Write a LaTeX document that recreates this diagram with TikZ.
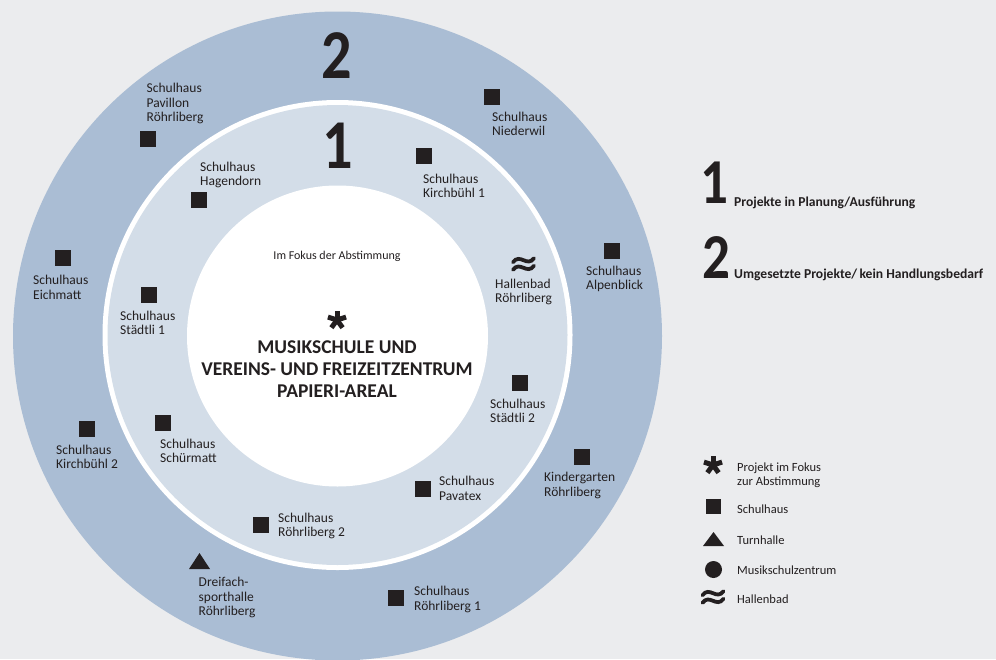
\documentclass[tikz,border=0pt]{standalone}
\usepackage{fontspec}
\setmainfont{Carlito}
\definecolor{bg}{HTML}{EBECEE}
\definecolor{outerblue}{HTML}{AABDD4}
\definecolor{innerblue}{HTML}{D3DDE8}
\definecolor{ink}{HTML}{231F20}
\newcommand{\narrow}[1]{\scalebox{0.86}[1]{#1}}
\tikzset{
  sq/.style={fill=ink, minimum size=16pt, inner sep=0pt, outer sep=0pt},
  lab/.style={font=\fontsize{13.5}{14.5}\selectfont, align=left, inner sep=0pt, anchor=west, text=ink},
  leglab/.style={font=\fontsize{12.5}{14}\selectfont, align=left, inner sep=0pt, anchor=west, text=ink},
  bignum/.style={font=\fontsize{70}{70}\selectfont\bfseries, inner sep=0pt, anchor=base, text=ink},
  legnum/.style={font=\fontsize{64}{64}\selectfont\bfseries, inner sep=0pt, anchor=base, text=ink},
  legtxt/.style={font=\fontsize{13.6}{14}\selectfont\bfseries, inner sep=0pt, anchor=base west, text=ink},
  center title/.style={font=\fontsize{19.5}{22}\selectfont\bfseries, align=center, inner sep=0pt, text=ink},
  astr/.pic={\foreach \a in {90,162,234,306,18} \draw[ink, line width=5pt] (0,0) -- ++(\a:-9.5);},
  wavesym/.pic={\foreach \dy in {-3.8,3.8} \draw[ink, line width=3.8pt, line cap=round] (-10.5,\dy+2) .. controls (-3.5,\dy-7.5) and (3.5,\dy+7.5) .. (10.5,\dy-2);}
}
\begin{document}
\begin{tikzpicture}[x=1pt,y=-1pt]
\useasboundingbox (0,0) rectangle (996,659);
\fill[bg] (0,0) rectangle (996,659);
\begin{scope}
\clip (0,0) rectangle (996,659);
\fill[outerblue] (337.5,336) circle (324.5);
\end{scope}
\fill[white] (337.5,335) circle (235);
\fill[innerblue] (337.5,335) circle (230);
\fill[white] (337.5,336) circle (150.5);

% big ring numbers
\node[bignum] (n2) at (337,78) {\narrow{2}};
\node[bignum] (n1) at (338,168) {\narrow{1}};

% center
\node[font=\fontsize{12}{14}\selectfont, text=ink, inner sep=0pt] (fokus) at (337,256) {Im Fokus der Abstimmung};
\pic at (337,320) {astr};
\node[center title] (title) at (337,369) {MUSIKSCHULE UND\\VEREINS- UND FREIZEITZENTRUM\\PAPIERI-AREAL};

% squares
\node[sq] (q1) at (148,139) {};
\node[sq] (q2) at (492,97) {};
\node[sq] (q3) at (424,156) {};
\node[sq] (q4) at (199,200) {};
\node[sq] (q5) at (63,258) {};
\node[sq] (q6) at (149,295) {};
\node[sq] (q7) at (612,251) {};
\node[sq] (q8) at (520,383) {};
\node[sq] (q9) at (87,429) {};
\node[sq] (q10) at (163,423) {};
\node[sq] (q11) at (582,457) {};
\node[sq] (q12) at (423,489) {};
\node[sq] (q13) at (261,525) {};
\node[sq] (q14) at (396,598) {};
\fill[ink] (189,569) -- (210,569) -- (199.5,553) -- cycle;
\pic at (523.5,264) {wavesym};

% labels
\node[lab] (l1) at (146.5,103.5) {Schulhaus\\Pavillon\\Röhrliberg};
\node[lab] (l2) at (492,124) {Schulhaus\\Niederwil};
\node[lab] (l3) at (423,186) {Schulhaus\\Kirchbühl 1};
\node[lab] (l4) at (200,175) {Schulhaus\\Hagendorn};
\node[lab] (l5) at (33,287.5) {Schulhaus\\Eichmatt};
\node[lab] (l6) at (120,323) {Schulhaus\\Städtli 1};
\node[lab] (l7) at (495,292) {Hallenbad\\Röhrliberg};
\node[lab] (l8) at (586,279) {Schulhaus\\Alpenblick};
\node[lab] (l9) at (490,411) {Schulhaus\\Städtli 2};
\node[lab] (l10) at (56,457) {Schulhaus\\Kirchbühl 2};
\node[lab] (l11) at (160,451) {Schulhaus\\Schürmatt};
\node[lab] (l12) at (544,485.5) {Kindergarten\\Röhrliberg};
\node[lab] (l13) at (439,488.5) {Schulhaus\\Pavatex};
\node[lab] (l14) at (278,526) {Schulhaus\\Röhrliberg 2};
\node[lab] (l15) at (198.5,597.5) {Dreifach-\\sporthalle\\Röhrliberg};
\node[lab] (l16) at (414,599.5) {Schulhaus\\Röhrliberg 1};

% legend top
\node[legnum] (k1) at (714,203) {\narrow{1}};
\node[legtxt] (k1t) at (734,206.5) {Projekte in Planung/Ausführung};
\node[legnum] (k2) at (716.5,278) {\narrow{2}};
\node[legtxt] (k2t) at (734,278) {Umgesetzte Projekte/\,kein Handlungsbedarf};

% legend symbols
\pic at (713,465) {astr};
\node[leglab] (g1) at (737,475) {Projekt im Fokus\\zur Abstimmung};
\node[sq, minimum size=15pt] (gs) at (713.5,506.5) {};
\node[leglab] (g2) at (737,509) {Schulhaus};
\fill[ink] (703,546) -- (724,546) -- (713.5,532) -- cycle;
\node[leglab] (g3) at (737,540) {Turnhalle};
\fill[ink] (713.5,569.5) circle (8.5);
\node[leglab] (g4) at (737,570) {Musikschulzentrum};
\pic at (713,597) {wavesym};
\node[leglab] (g5) at (737,599) {Hallenbad};
\end{tikzpicture}
\end{document}
